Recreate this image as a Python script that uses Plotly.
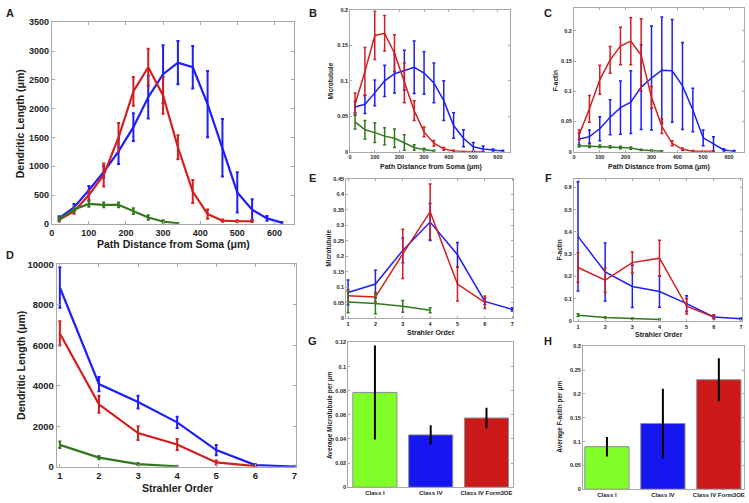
import plotly.graph_objects as go

W, H = 749, 503

RED = "#d21e1e"
BLUE = "#1e1efa"
GREEN = "#33781e"
AXIS = "#a8a8a8"
TXT = "#222222"
FONT = "Liberation Sans"

# ---- data -------------------------------------------------------------------
dist = [20, 60, 100, 140, 180, 220, 260, 300, 340, 380, 420, 460, 500, 540, 580, 620]
order = [1, 2, 3, 4, 5, 6, 7]
classes = ["Class I", "Class IV", "Class IV Form3OE"]

# A: dendritic length vs path distance
a_red = [70, 215, 500, 850, 1500, 2300, 2720, 2230, 1330, 560, 170, 55, 45, 45]
a_red_err = [30, 40, 80, 200, 250, 250, 320, 320, 210, 200, 80, 20, 15, 15]
a_blue = [100, 285, 585, 900, 1260, 1680, 2200, 2600, 2800, 2720, 2080, 1320, 545, 245, 95, 20]
a_blue_err = [30, 60, 70, 100, 220, 240, 370, 500, 375, 370, 575, 500, 350, 180, 40, 10]
a_green = [80, 250, 345, 330, 330, 220, 110, 40, 8]
a_green_err = [25, 50, 50, 40, 40, 50, 40, 20, 5]

# B: microtubule vs path distance
b_red = [0.067, 0.113, 0.164, 0.167, 0.139, 0.097, 0.058, 0.028, 0.012, 0.004, 0.001, 0.0005, 0, 0]
b_red_err = [0.016, 0.034, 0.034, 0.025, 0.026, 0.028, 0.014, 0.007, 0.004, 0.002, 0.001, 0, 0, 0]
b_blue = [0.063, 0.067, 0.083, 0.100, 0.110, 0.115, 0.119, 0.111, 0.097, 0.072, 0.037, 0.019, 0.007, 0.004, 0.002, 0.001]
b_blue_err = [0.008, 0.013, 0.018, 0.022, 0.027, 0.028, 0.037, 0.030, 0.028, 0.028, 0.018, 0.012, 0.006, 0.004, 0.002, 0.001]
b_green = [0.042, 0.031, 0.027, 0.022, 0.019, 0.013, 0.006, 0.003, 0.001]
b_green_err = [0.010, 0.013, 0.014, 0.012, 0.013, 0.011, 0.004, 0.002, 0.001]

# C: F-actin vs path distance
c_red = [0.028, 0.071, 0.119, 0.152, 0.175, 0.183, 0.160, 0.090, 0.042, 0.014, 0.004, 0.001, 0.001, 0.001]
c_red_err = [0.008, 0.022, 0.024, 0.022, 0.031, 0.039, 0.060, 0.018, 0.012, 0.004, 0.002, 0.001, 0, 0]
c_blue = [0.021, 0.025, 0.038, 0.057, 0.073, 0.082, 0.107, 0.122, 0.135, 0.134, 0.109, 0.069, 0.023, 0.013, 0.003, 0.001]
c_blue_err = [0.010, 0.011, 0.020, 0.029, 0.044, 0.052, 0.070, 0.086, 0.088, 0.085, 0.072, 0.036, 0.013, 0.012, 0.002, 0.001]
c_green = [0.010, 0.009, 0.009, 0.008, 0.007, 0.006, 0.003, 0.002, 0.001]
c_green_err = [0.002, 0.002, 0.002, 0.002, 0.002, 0.002, 0.001, 0.001, 0.0005]

# D: dendritic length vs Strahler order
d_blue = [8850, 4080, 3190, 2190, 820, 80, 10]
d_blue_err = [1000, 350, 320, 280, 250, 40, 10]
d_red = [6580, 3080, 1660, 1100, 210, 30]
d_red_err = [600, 420, 340, 270, 100, 20]
d_green = [1080, 450, 130, 15]
d_green_err = [160, 80, 50, 10]

# E: microtubule vs Strahler order
e_blue = [0.083, 0.110, 0.219, 0.311, 0.205, 0.054, 0.028]
e_blue_err = [0.040, 0.045, 0.040, 0.060, 0.040, 0.010, 0.005]
e_red = [0.072, 0.068, 0.208, 0.344, 0.110, 0.051]
e_red_err = [0.020, 0.015, 0.080, 0.090, 0.055, 0.020]
e_green = [0.052, 0.047, 0.038, 0.025]
e_green_err = [0.035, 0.033, 0.019, 0.008]

# F: F-actin vs Strahler order
f_blue = [0.38, 0.22, 0.155, 0.132, 0.078, 0.018, 0.010]
f_blue_err = [0.245, 0.13, 0.095, 0.07, 0.035, 0.005, 0.003]
f_red = [0.24, 0.183, 0.262, 0.282, 0.066, 0.018]
f_red_err = [0.066, 0.055, 0.048, 0.08, 0.035, 0.01]
f_green = [0.026, 0.016, 0.011, 0.007]
f_green_err = [0.006, 0.003, 0.002, 0.002]

# G, H: averages per class
g_vals = [0.0786, 0.0434, 0.0574]
g_err = [0.039, 0.008, 0.0084]
h_vals = [0.0893, 0.138, 0.230]
h_err = [0.0206, 0.073, 0.045]
bar_colors = ["#80ff28", "#1616f0", "#cc1a1a"]


def dom(x0, x1, y0, y1):
    return [x0 / W, x1 / W], [1 - y1 / H, 1 - y0 / H]


fig = go.Figure()


def add_line(ax, x, y, err, color, lw, ew):
    fig.add_trace(go.Scatter(
        x=x[:len(y)], y=y, mode="lines",
        line=dict(color=color, width=lw),
        error_y=dict(type="data", array=err, color=color, thickness=ew, width=1.5),
        xaxis="x" + ax, yaxis="y" + ax, showlegend=False,
    ))


# A
add_line("", dist, a_blue, a_blue_err, BLUE, 2.2, 2)
add_line("", dist, a_red, a_red_err, RED, 2.2, 2)
add_line("", dist, a_green, a_green_err, GREEN, 2.2, 2)
# B
add_line("2", dist, b_blue, b_blue_err, BLUE, 1.5, 1.5)
add_line("2", dist, b_red, b_red_err, RED, 1.5, 1.5)
add_line("2", dist, b_green, b_green_err, GREEN, 1.5, 1.5)
# C
add_line("3", dist, c_blue, c_blue_err, BLUE, 1.5, 1.5)
add_line("3", dist, c_red, c_red_err, RED, 1.5, 1.5)
add_line("3", dist, c_green, c_green_err, GREEN, 1.5, 1.5)
# D
add_line("4", order, d_blue, d_blue_err, BLUE, 2.2, 2)
add_line("4", order, d_red, d_red_err, RED, 2.2, 2)
add_line("4", order, d_green, d_green_err, GREEN, 2.2, 2)
# E
add_line("5", order, e_blue, e_blue_err, BLUE, 1.5, 1.5)
add_line("5", order, e_red, e_red_err, RED, 1.5, 1.5)
add_line("5", order, e_green, e_green_err, GREEN, 1.5, 1.5)
# F
add_line("6", order, f_blue, f_blue_err, BLUE, 1.5, 1.5)
add_line("6", order, f_red, f_red_err, RED, 1.5, 1.5)
add_line("6", order, f_green, f_green_err, GREEN, 1.5, 1.5)

# G, H bars
for ax, vals, err in [("7", g_vals, g_err), ("8", h_vals, h_err)]:
    fig.add_trace(go.Bar(
        x=classes, y=vals, width=0.79,
        marker=dict(color=bar_colors, line=dict(color="#8c8c8c", width=1)),
        error_y=dict(type="data", array=err, color="black", thickness=2, width=0),
        xaxis="x" + ax, yaxis="y" + ax, showlegend=False,
    ))


def axis(domain, rng, size, ticks=None, anchor=None, big=False):
    d = dict(
        domain=domain, range=rng, anchor=anchor,
        showline=True, linecolor=AXIS, linewidth=1, mirror="ticks",
        ticks="inside", ticklen=3 if big else 2, tickcolor=AXIS,
        showgrid=False, zeroline=False, ticklabeloverflow="allow",
        tickfont=dict(family=FONT, size=size, color=TXT, weight="bold"),
    )
    if ticks is not None:
        d["tickvals"] = ticks
    return d


panels = {
    "": dom(49, 293, 16.7, 222.7),
    "2": dom(349, 510, 4, 149),
    "3": dom(574, 745, 2, 149),
    "4": dom(54, 295, 264, 471),
    "5": dom(345, 513, 177, 319),
    "6": dom(574, 743, 177, 322),
    "7": dom(347, 513, 344, 492),
    "8": dom(583, 745, 348, 494),
}

lay = {}
specs = [
    ("", [0, 654], [0, 3500], list(range(0, 601, 100)), [i * 500 for i in range(8)], 9, True),
    ("2", [0, 650], [0, 0.2], list(range(0, 601, 100)), [0, 0.05, 0.1, 0.15, 0.2], 5.5, False),
    ("3", [0, 658], [0, 0.238], list(range(0, 601, 100)), [0, 0.05, 0.1, 0.15, 0.2], 5.5, False),
    ("4", [0.92, 7.05], [0, 10000], order, [0, 2000, 4000, 6000, 8000, 10000], 9.5, True),
    ("5", [0.93, 7.04], [0, 0.45], order, [i * 0.05 for i in range(10)], 5.5, False),
    ("6", [0.85, 7.04], [0, 0.637], order, [i * 0.1 for i in range(7)], 5.5, False),
    ("7", [-0.48, 2.48], [0, 0.12], None, [0, 0.02, 0.04, 0.06, 0.08, 0.1, 0.12], 5.5, False),
    ("8", [-0.43, 2.45], [0, 0.3], None, [0, 0.05, 0.1, 0.15, 0.2, 0.25, 0.3], 5.5, False),
]
for ax, xr, yr, xt, yt, fs, big in specs:
    xd, yd = panels[ax]
    lay["xaxis" + ax] = axis(xd, xr, 6 if ax in ("7", "8") else fs, xt, "y" + ax, big)
    lay["yaxis" + ax] = axis(yd, yr, fs, yt, "x" + ax, big)
lay["yaxis"]["tickformat"] = "d"
lay["yaxis4"]["tickformat"] = "d"
lay["xaxis7"]["ticklen"] = 0
lay["xaxis8"]["ticklen"] = 0

fig.update_layout(
    **lay,
    width=W, height=H,
    margin=dict(l=0, r=0, t=0, b=0),
    paper_bgcolor="white", plot_bgcolor="white",
    font=dict(family=FONT, color=TXT),
)

# axis titles and panel letters
def label(x, y, text, size, angle=0, bold=True):
    fig.add_annotation(
        x=x / W, y=1 - y / H, xref="paper", yref="paper",
        text=text, showarrow=False, textangle=angle,
        xanchor="center", yanchor="middle",
        font=dict(family=FONT, size=size, color=TXT, weight="bold" if bold else "normal"),
    )


label(171, 243, "Path Distance from Soma (μm)", 10.5)
label(17, 120, "Dendritic Length (μm)", 10.5, -90)
label(175, 493, "Strahler Order", 10.5)
label(18, 367, "Dendritic Length (μm)", 10.5, -90)
label(430, 165, "Path Distance from Soma (μm)", 7)
label(660, 165, "Path Distance from Soma (μm)", 7)
label(430, 334, "Strahler Order", 7)
label(660, 336, "Strahler Order", 7)
label(329, 77, "Microtubule", 6.5, -90)
label(555, 77, "F-actin", 6.5, -90)
label(327, 248, "Microtubule", 6.5, -90)
label(560, 250, "F-actin", 6.5, -90)
label(329, 418, "Average Microtubule per μm", 6.5, -90)
label(560, 420, "Average F-actin per μm", 6.5, -90)

for x, y, t in [(7, 7, "A"), (312, 7, "B"), (548, 7, "C"), (7, 255, "D"),
                (311, 176, "E"), (548, 176, "F"), (311, 342, "G"), (548, 342, "H")]:
    label(x, y, t, 11)

# the page's default body margin would push the figure 8px off the window
fig.write_html("out.html", config={"displayModeBar": False},
               post_script="document.body.style.margin='0';")
